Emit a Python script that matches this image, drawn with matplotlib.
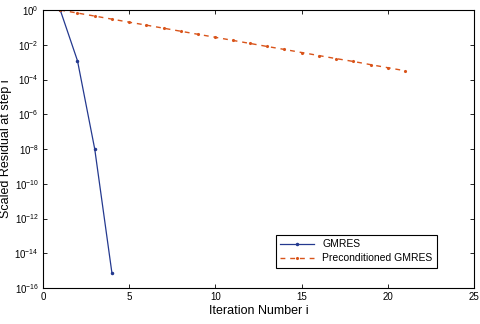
import numpy as np
from matplotlib import pyplot as plt

plt.rcParams['font.family'] = ['Liberation Sans', 'DejaVu Sans']
plt.rcParams['mathtext.fontset'] = 'custom'
plt.rcParams['mathtext.rm'] = 'Liberation Sans'

# GMRES residuals
gmres_iter = [1, 2, 3, 4]
gmres_res = [1.0, 1.2e-3, 1.0e-8, 7.0e-16]

# Preconditioned GMRES residuals
pre_iter = list(range(1, 22))
pre_res = [1.0, 0.67, 0.45, 0.30, 0.20, 0.135, 0.090, 0.060, 0.040, 0.027,
           0.018, 0.012, 0.0080, 0.0054, 0.0036, 0.0024, 0.0016, 0.0011,
           0.00072, 0.00048, 0.00032]

exps = list(range(0, -17, -2))
yticks = [10.0 ** k for k in exps]

fig = plt.figure(figsize=(4.8, 3.24), dpi=100)
ax = fig.add_axes([0.0896, 0.111, 0.898, 0.858])

ax.semilogy(gmres_iter, gmres_res, color='#24398f', lw=0.9, marker='.',
            markersize=3, label='GMRES')
ax.semilogy(pre_iter, pre_res, color='#d9541a', lw=1.0, marker='.',
            markersize=2.5, linestyle=(0, (3.5, 3.5)),
            label='Preconditioned GMRES')

ax.set_xlim(0, 25)
ax.set_ylim(1e-16, 1)
ax.set_xticks([0, 5, 10, 15, 20, 25])
ax.set_yticks(yticks)
ax.set_yticklabels([r'$10^{%d}$' % k for k in exps])
ax.minorticks_off()
ax.tick_params(direction='in', top=True, right=True, labelsize=7,
               length=3, width=0.6, pad=3)
for s in ax.spines.values():
    s.set_linewidth(0.8)

ax.set_xlabel('Iteration Number i', fontsize=9, labelpad=2)
ax.set_ylabel('Scaled Residual at step i', fontsize=9, labelpad=2)

leg = ax.legend(loc='lower right', bbox_to_anchor=(0.925, 0.055),
                fontsize=7.5, fancybox=False, framealpha=1,
                edgecolor='black', handlelength=3.2, borderpad=0.4,
                labelspacing=0.4)
leg.get_frame().set_linewidth(0.8)

fig.savefig('out.png', dpi=100)
